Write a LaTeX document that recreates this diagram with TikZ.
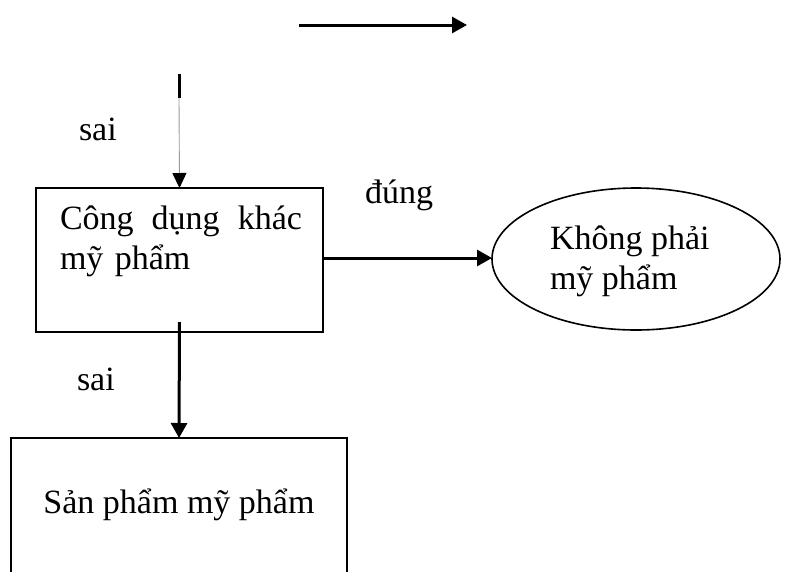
\documentclass[tikz,border=0pt]{standalone}
\usepackage{fontspec}
\setmainfont{Liberation Serif}
\usetikzlibrary{arrows.meta,shapes.geometric}

\begin{document}
\begin{tikzpicture}[x=1pt,y=-1pt,
                    every node/.style={font=\fontsize{34}{40}\selectfont, inner sep=0pt, outer sep=0pt},
                    khoi/.style={draw, rectangle, line width=2pt},
                    bauduc/.style={draw, ellipse, line width=1.6pt, minimum width=288pt, minimum height=142pt},
                    muiten/.style={-{Triangle[length=15pt,width=16pt]}, line width=3pt},
                    chu/.style={anchor=base west}]
                    \useasboundingbox (0,0) rectangle (789,571);
                    \clip (0,0) rectangle (789,571);
                    % cac khoi
                    \node[khoi, minimum width=287pt, minimum height=144pt] (congdung) at (179.5,260) {};
                    \node[anchor=north west, text width=242pt, align=left] (congdungtxt) at (60,206) {Công\hfill dụng\hfill khác\\mỹ phẩm};
                    \node[bauduc] (khongphai) at (636,259) {};
                    \node[anchor=north west, align=left] (khongphaitxt) at (550,226) {Không phải\\mỹ phẩm};
                    \node[khoi, minimum width=336pt, minimum height=170pt] (sanpham) at (179,523) {};
                    \node[anchor=base] (sanphamtxt) at (179,513) {Sản phẩm mỹ phẩm};
                    % nhan
                    \node[chu] (sai1) at (79,140) {sai};
                    \node[chu] (sai2) at (77,390) {sai};
                    \node[chu] (dung) at (365,203) {đúng};
                    % mui ten
                    \coordinate (dauA) at (299,25);
                    \coordinate (cuoiA) at (467,25);
                    \coordinate (vachA) at (179,74);
                    \coordinate (vachB) at (179,98);
                    \draw[muiten] (dauA) -- (cuoiA);
                    \draw[line width=3pt] (vachA) -- (vachB);
                    \draw[gray!80, line width=0.9pt, -{Triangle[length=15pt,width=14pt,color=black]}] (vachB) -- (congdung.north);
                    \draw[muiten] ([yshift=2pt]congdung.east) -- ([yshift=1pt]khongphai.west);
                    \draw[muiten] ([yshift=10pt]congdung.south) -- (sanpham.north);
                \end{tikzpicture}
\end{document}
